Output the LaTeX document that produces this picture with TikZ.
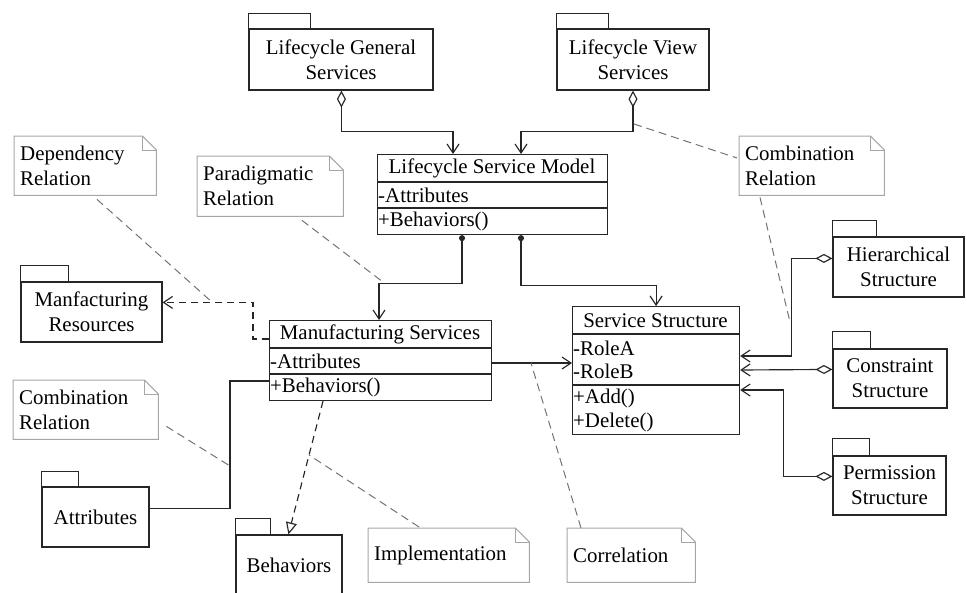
\documentclass[tikz,border=0pt]{standalone}
\usepackage{fontspec}
\setmainfont{Liberation Serif}
\usetikzlibrary{arrows.meta,calc}
\newcommand\pkgtab[3]{\draw[line] (#1.north west) rectangle ++(#2,-#3);}
\newcommand\notebox[1]{%
  \draw[notebd] (#1.north west) -- ([xshift=-14pt]#1.north east) -- ([yshift=-14pt]#1.north east) -- (#1.south east) -- (#1.south west) -- cycle;
  \draw[notebd] ([xshift=-14pt]#1.north east) |- ([yshift=-14pt]#1.north east);}
\begin{document}
\begin{tikzpicture}[x=1pt,y=-1pt,
  every node/.style={font=\fontsize{20.9}{25}\selectfont},
  line/.style={line width=1.15pt, draw=black!85},
  pkg/.style={line, draw, inner sep=0pt, align=center},
  cls/.style={line, draw, inner sep=0pt, anchor=north west},
  ttl/.style={inner sep=0pt, anchor=center},
  mem/.style={inner sep=1pt, anchor=west},
  note/.style={inner xsep=6pt, inner ysep=0pt, align=left, anchor=north west},
  notebd/.style={draw=black!35, line width=1pt},
  opentip/.tip={Straight Barb[length=9pt,width=12pt]},
  agg/.style={line, {Diamond[open,length=17pt,width=9pt]}-opentip},
  comp/.style={line, {Circle[length=6pt]}-opentip},
  assoc/.style={line, -opentip},
  dep/.style={line, dash pattern=on 7pt off 5pt, -opentip},
  real/.style={line, dash pattern=on 7pt off 5pt, -{Triangle[open,length=12pt,width=11pt]}},
  nline/.style={draw=black!55, line width=1pt, dash pattern=on 8pt off 5pt}
]
\useasboundingbox (0,0) rectangle (967,592);
\clip (0,0) rectangle (967,592);

% ---------- packages ----------
\node[pkg, minimum width=184pt, minimum height=61pt] (lgs) at (341,59.5) {Lifecycle General\\Services};
\pkgtab{lgs}{62}{15}
\node[pkg, minimum width=152pt, minimum height=61pt] (lvs) at (633,59.5) {Lifecycle View\\Services};
\pkgtab{lvs}{52}{15}
\node[pkg, minimum width=141pt, minimum height=60pt] (manres) at (91.5,312) {Manfacturing\\Resources};
\pkgtab{manres}{48}{16}
\node[pkg, minimum width=107pt, minimum height=60pt] (attr) at (95.5,517) {Attributes};
\pkgtab{attr}{37}{15}
\node[pkg, minimum width=106pt, minimum height=60pt] (beh) at (289,565) {Behaviors};
\pkgtab{beh}{35}{16}
\node[pkg, minimum width=131pt, minimum height=60pt] (hier) at (898.5,267) {Hierarchical\\Structure};
\pkgtab{hier}{44}{16}
\node[pkg, minimum width=114pt, minimum height=59pt] (cons) at (890,378.5) {Constraint\\Structure};
\pkgtab{cons}{38}{17}
\node[pkg, minimum width=113pt, minimum height=59pt] (perm) at (889.5,485.5) {Permission\\Structure};
\pkgtab{perm}{37}{17}

% ---------- classes ----------
\node[cls, minimum width=230pt, minimum height=80pt] (lsm) at (377,154) {};
\draw[line] ($(lsm.north west)+(0,28)$) -- ($(lsm.north east)+(0,28)$);
\draw[line] ($(lsm.north west)+(0,54)$) -- ($(lsm.north east)+(0,54)$);
\node[ttl] (lsmT) at (492,168) {Lifecycle Service Model};
\node[mem] (lsmA) at (377,195) {-Attributes};
\node[mem] (lsmB) at (377,221) {+Behaviors()};

\node[cls, minimum width=222pt, minimum height=80pt] (ms) at (269,320) {};
\draw[line] ($(ms.north west)+(0,28)$) -- ($(ms.north east)+(0,28)$);
\draw[line] ($(ms.north west)+(0,54)$) -- ($(ms.north east)+(0,54)$);
\node[ttl] (msT) at (380,334) {Manufacturing Services};
\node[mem] (msA) at (269,361) {-Attributes};
\node[mem] (msB) at (269,387) {+Behaviors()};

\node[cls, minimum width=167pt, minimum height=128pt] (ss) at (572,306) {};
\draw[line] ($(ss.north west)+(0,28)$) -- ($(ss.north east)+(0,28)$);
\draw[line] ($(ss.north west)+(0,79)$) -- ($(ss.north east)+(0,79)$);
\node[ttl] (ssT) at (655.5,321) {Service Structure};
\node[mem] (ssA) at (572,348) {-RoleA};
\node[mem] (ssB) at (572,371) {-RoleB};
\node[mem] (ssC) at (572,398) {+Add()};
\node[mem] (ssD) at (572,422) {+Delete()};

% ---------- notes ----------
\node[note, text width=130pt, minimum height=59pt] (depn) at (14,136) {Dependency\\Relation};
\notebox{depn}
\node[note, text width=134pt, minimum height=60pt] (parn) at (197,156) {Paradigmatic\\Relation};
\notebox{parn}
\node[note, text width=133pt, minimum height=59pt] (combR) at (739,136) {Combination\\Relation};
\notebox{combR}
\node[note, text width=133pt, minimum height=59pt] (combL) at (13,380) {Combination\\Relation};
\notebox{combL}
\node[note, text width=149pt, minimum height=54pt] (impl) at (368,528) {Implementation};
\notebox{impl}
\node[note, text width=116pt, minimum height=54pt] (corr) at (567,528) {Correlation};
\notebox{corr}

% ---------- connectors ----------
\draw[agg] ($(lgs.south west)+(93,0)$) -- ++(0,41) -| ($(lsm.north west)+(76,0)$);
\draw[agg] (lvs.south) -- ++(0,41) -| ($(lsm.north west)+(144,0)$);
\draw[comp] ($(lsm.south west)+(85,0)$) -- ++(0,48) -| ($(ms.north west)+(110,0)$);
\draw[comp] ($(lsm.south west)+(144,0)$) -- ++(0,50) -| (ss.north);
\draw[dep] ($(ms.north west)+(0,19)$) -- ++(-16,0) |- ($(manres.north east)+(0,21)$);
\coordinate (msAttr) at ($(ms.north west)+(0,61)$);
\draw[line] ($(attr.north east)+(0,22)$) -| ([xshift=-39pt]msAttr) -- (msAttr);
\draw[real] ($(ms.south west)+(54,0)$) -- ($(beh.north west)+(53,0)$);
\draw[assoc] ($(ms.north east)+(0,43)$) -- ($(ss.north west)+(0,57)$);
\coordinate (ssH) at ($(ss.north east)+(0,50)$);
\draw[agg] ($(hier.north west)+(0,22)$) -| ([xshift=51pt]ssH) -- (ssH);
\draw[agg] ($(cons.north west)+(0,21)$) -- ($(ss.north east)+(0,64)$);
\coordinate (ssP) at ($(ss.north east)+(0,84)$);
\draw[agg] ($(perm.north west)+(0,21)$) -| ([xshift=43pt]ssP) -- (ssP);

% ---------- note anchors ----------
\coordinate (depP) at (213,303);
\coordinate (parP) at (383,282);
\coordinate (lvsP) at (634,124);
\coordinate (hierP) at (790,322);
\coordinate (attrP) at (230,466);
\coordinate (realP) at (309,455);
\coordinate (assocP) at (531,363);
\draw[nline] ($(depn.south west)+(83,4)$) -- (depP);
\draw[nline] ($(parn.south west)+(105,4)$) -- (parP);
\draw[nline] (lvsP) -- ($(combR.north west)+(-2,22)$);
\draw[nline] ($(combR.south west)+(21,2)$) -- (hierP);
\draw[nline] ($(combL.south east)+(8,-13)$) -- (attrP);
\draw[nline] ($(impl.north west)+(51,-1)$) -- (realP);
\draw[nline] ($(corr.north west)+(14,0)$) -- (assocP);
\end{tikzpicture}
\end{document}
